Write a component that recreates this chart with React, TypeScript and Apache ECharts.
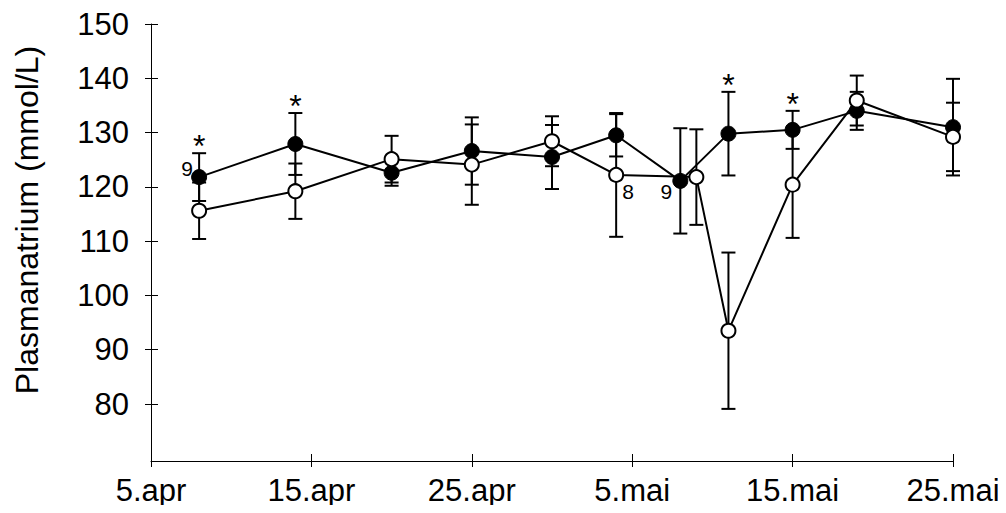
import React, { useEffect, useRef } from "react";
import * as echarts from "echarts";

// Day offsets are counted from 5 April (x = 0) to 25 May (x = 50).
const xTickLabels = ["5.apr", "15.apr", "25.apr", "5.mai", "15.mai", "25.mai"];
const yTickValues = [80, 90, 100, 110, 120, 130, 140, 150];

// Filled circles
const filledDays = [3, 9, 15, 20, 25, 29, 33, 36, 40, 44, 50];
const filledMean = [121.8, 127.9, 122.6, 126.6, 125.5, 129.5, 121.1, 129.8, 130.5, 134.0, 131.0];
const filledSd = [4.4, 5.7, 2.4, 6.2, 5.9, 3.9, 9.7, 7.7, 3.5, 3.5, 8.9];
const filledStar = [1, 1, 0, 0, 0, 0, 0, 1, 1, 0, 0];

// Open circles
const openDays = [3, 9, 15, 20, 25, 29, 34, 36, 40, 44, 50];
const openMean = [115.6, 119.2, 125.1, 124.1, 128.4, 122.2, 121.8, 93.5, 120.4, 135.9, 129.2];
const openSd = [5.2, 5.1, 4.3, 7.4, 4.6, 11.4, 8.8, 14.4, 9.8, 4.6, 6.3];

// Sample-size notes attached to single points
const countNotes = [
  { group: "filled", index: 0, text: "9" },
  { group: "open", index: 5, text: "8" },
  { group: "filled", index: 6, text: "9" },
];

const FONT = "'Liberation Sans', Arial, Helvetica, sans-serif";
const notePlacement: Record<string, [number, number]> = {
  "filled-0": [-12, -9],
  "open-5": [12, 17],
  "filled-6": [-14, 11],
};

function errorBarRenderer(params: any, api: any) {
  const x = api.value(0);
  const lo = api.value(1);
  const hi = api.value(2);
  const star = api.value(3);
  const top = api.coord([x, hi]);
  const bot = api.coord([x, lo]);
  const half = 7;
  const stroke = { stroke: "#000", lineWidth: 2 };
  const children: any[] = [
    { type: "line", shape: { x1: top[0], y1: top[1], x2: bot[0], y2: bot[1] }, style: stroke },
    { type: "line", shape: { x1: top[0] - half, y1: top[1], x2: top[0] + half, y2: top[1] }, style: stroke },
    { type: "line", shape: { x1: bot[0] - half, y1: bot[1], x2: bot[0] + half, y2: bot[1] }, style: stroke },
  ];
  if (star) {
    children.push({
      type: "text",
      x: top[0],
      y: top[1] - 7,
      style: {
        text: "*",
        fill: "#000",
        font: `32px ${FONT}`,
        textAlign: "center",
        textVerticalAlign: "middle",
      },
    });
  }
  return { type: "group", children };
}

function lineData(group: string, days: number[], means: number[]) {
  return days.map((d, i) => {
    const note = countNotes.find((n) => n.group === group && n.index === i);
    if (!note) return [d, means[i]];
    const off = notePlacement[`${group}-${i}`];
    return {
      value: [d, means[i]],
      label: {
        show: true,
        position: "inside",
        offset: off,
        formatter: note.text,
        color: "#000",
        fontFamily: FONT,
        fontSize: 21,
      },
    };
  });
}

export default function App() {
  const ref = useRef<HTMLDivElement>(null);

  useEffect(() => {
    if (!ref.current) return;
    const chart = echarts.init(ref.current, undefined, { renderer: "svg" });

    const axisLabelStyle = { color: "#000", fontFamily: FONT, fontSize: 31 };

    chart.setOption({
      animation: false,
      backgroundColor: "#fff",
      grid: { left: 151, right: 53, top: 24, bottom: 52, containLabel: false },
      xAxis: [
        {
          type: "value",
          min: 0,
          max: 50,
          interval: 10,
          axisLine: { show: true, onZero: false, lineStyle: { color: "#000", width: 1 } },
          axisTick: { show: true, inside: false, length: 6, lineStyle: { color: "#000", width: 1 } },
          axisLabel: {
            ...axisLabelStyle,
            margin: 14,
            formatter: (v: number) => xTickLabels[Math.round(v / 10)] ?? "",
          },
          splitLine: { show: false },
        },
        {
          type: "value",
          position: "bottom",
          min: 0,
          max: 50,
          interval: 10,
          axisLine: { show: false },
          axisTick: { show: true, inside: true, length: 7, lineStyle: { color: "#000", width: 1 } },
          axisLabel: { show: false },
          splitLine: { show: false },
        },
      ],
      yAxis: [
        {
          type: "value",
          min: 69.5,
          max: 150,
          axisLine: { show: true, onZero: false, lineStyle: { color: "#000", width: 1 } },
          axisTick: {
            show: true,
            inside: false,
            length: 6,
            customValues: yTickValues,
            lineStyle: { color: "#000", width: 1 },
          },
          axisLabel: { ...axisLabelStyle, margin: 22, customValues: yTickValues },
          splitLine: { show: false },
        },
        {
          type: "value",
          position: "left",
          min: 69.5,
          max: 150,
          axisLine: { show: false },
          axisTick: {
            show: true,
            inside: true,
            length: 7,
            customValues: yTickValues,
            lineStyle: { color: "#000", width: 1 },
          },
          axisLabel: { show: false },
          splitLine: { show: false },
        },
      ],
      graphic: [
        {
          type: "text",
          x: 27,
          y: 220,
          rotation: Math.PI / 2,
          style: {
            text: "Plasmanatrium (mmol/L)",
            fill: "#000",
            font: `32px ${FONT}`,
            textAlign: "center",
            textVerticalAlign: "middle",
          },
        },
      ],
      series: [
        {
          name: "filled-err",
          type: "custom",
          z: 1,
          renderItem: errorBarRenderer,
          encode: { x: 0, y: [1, 2] },
          data: filledDays.map((d, i) => [d, filledMean[i] - filledSd[i], filledMean[i] + filledSd[i], filledStar[i]]),
        },
        {
          name: "open-err",
          type: "custom",
          z: 1,
          renderItem: errorBarRenderer,
          encode: { x: 0, y: [1, 2] },
          data: openDays.map((d, i) => [d, openMean[i] - openSd[i], openMean[i] + openSd[i], 0]),
        },
        {
          name: "filled",
          type: "line",
          z: 3,
          symbol: "circle",
          symbolSize: 15,
          showAllSymbol: true,
          lineStyle: { color: "#000", width: 2 },
          itemStyle: { color: "#000", borderColor: "#000", borderWidth: 1 },
          data: lineData("filled", filledDays, filledMean),
        },
        {
          name: "open",
          type: "line",
          z: 4,
          symbol: "circle",
          symbolSize: 14,
          showAllSymbol: true,
          lineStyle: { color: "#000", width: 2 },
          itemStyle: { color: "#fff", borderColor: "#000", borderWidth: 2 },
          data: lineData("open", openDays, openMean),
        },
      ],
    });

    return () => chart.dispose();
  }, []);

  return <div ref={ref} style={{ width: 1006, height: 513, margin: -8 }} />;
}
